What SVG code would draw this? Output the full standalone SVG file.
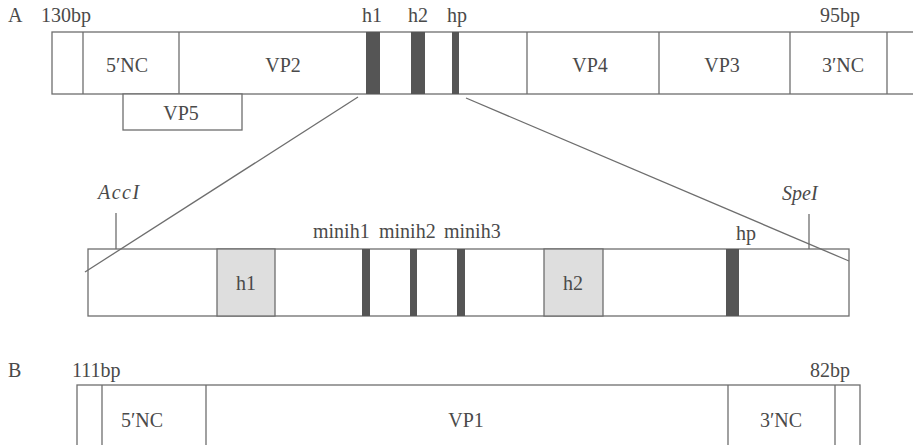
<svg xmlns="http://www.w3.org/2000/svg" width="913" height="445" viewBox="0 0 913 445">
  <style>
    text { font-family: "Liberation Serif", "DejaVu Serif", serif; font-size: 20px; fill: #4a4a4a; }
    .mid { text-anchor: middle; }
    .it { font-style: italic; }
    .box { fill: #fff; stroke: #6e6e6e; stroke-width: 1.3; }
    .div { stroke: #6e6e6e; stroke-width: 1.3; fill: none; }
    .band { fill: #555; }
    .shade { fill: #dedede; stroke: #6e6e6e; stroke-width: 1.3; }
  </style>
  <rect width="913" height="445" fill="#fff"/>

  <!-- A: full genome map -->
  <g id="panelA-label"><text x="8" y="22">A</text></g>
  <g id="genomeA">
    <rect class="box" x="52" y="32" width="880" height="62"/>
    <line class="div" x1="83" y1="32" x2="83" y2="94"/>
    <line class="div" x1="179" y1="32" x2="179" y2="94"/>
    <line class="div" x1="527" y1="32" x2="527" y2="94"/>
    <line class="div" x1="659" y1="32" x2="659" y2="94"/>
    <line class="div" x1="790" y1="32" x2="790" y2="94"/>
    <line class="div" x1="887" y1="32" x2="887" y2="94"/>
    <rect class="band" x="366" y="32" width="14" height="62"/>
    <rect class="band" x="411" y="32" width="14" height="62"/>
    <rect class="band" x="452" y="32" width="7" height="62"/>
    <text x="41" y="22">130bp</text>
    <text class="mid" x="840" y="22">95bp</text>
    <text class="mid" x="372" y="22">h1</text>
    <text class="mid" x="418" y="22">h2</text>
    <text class="mid" x="457" y="22">hp</text>
    <text class="mid" x="127" y="72">5′NC</text>
    <text class="mid" x="283" y="72">VP2</text>
    <text class="mid" x="590" y="72">VP4</text>
    <text class="mid" x="722" y="72">VP3</text>
    <text class="mid" x="843" y="72">3′NC</text>
  </g>
  <g id="vp5">
    <rect class="box" x="123" y="94" width="119" height="36"/>
    <text class="mid" x="181" y="120">VP5</text>
  </g>

  <!-- enlarged region -->
  <g id="detail">
    <rect class="box" x="88" y="249" width="761" height="67"/>
    <rect class="shade" x="217" y="249" width="58" height="67"/>
    <rect class="shade" x="544" y="249" width="59" height="67"/>
    <rect class="band" x="362" y="249" width="8" height="67"/>
    <rect class="band" x="410" y="249" width="7" height="67"/>
    <rect class="band" x="457" y="249" width="8" height="67"/>
    <rect class="band" x="726" y="249" width="13" height="67"/>
    <text class="mid" x="246" y="290">h1</text>
    <text class="mid" x="573" y="290">h2</text>
    <text x="313" y="238">minih1</text>
    <text x="379" y="238">minih2</text>
    <text x="444" y="238">minih3</text>
    <text class="mid" x="746" y="240">hp</text>
  </g>
  <!-- restriction sites -->
  <g id="accI">
    <text class="it" x="98" y="199" letter-spacing="1.5">AccI</text>
    <line class="div" x1="116" y1="213" x2="116" y2="249"/>
  </g>
  <g id="speI">
    <text class="it" x="782" y="200">SpeI</text>
    <line class="div" x1="809" y1="214" x2="809" y2="249"/>
  </g>
  <!-- zoom lines, drawn over the enlarged bar -->
  <g id="connectors">
    <line class="div" x1="358" y1="97" x2="85" y2="272"/>
    <line class="div" x1="466" y1="98" x2="849" y2="261"/>
  </g>

  <!-- B: second genome map -->
  <g id="panelB-label"><text x="8" y="377">B</text></g>
  <g id="genomeB">
    <rect class="box" x="77" y="385" width="783" height="70"/>
    <line class="div" x1="102" y1="385" x2="102" y2="445"/>
    <line class="div" x1="206" y1="385" x2="206" y2="445"/>
    <line class="div" x1="728" y1="385" x2="728" y2="445"/>
    <line class="div" x1="835" y1="385" x2="835" y2="445"/>
    <text x="72" y="377">111bp</text>
    <text class="mid" x="830" y="377">82bp</text>
    <text class="mid" x="142" y="427">5′NC</text>
    <text class="mid" x="466" y="427">VP1</text>
    <text class="mid" x="781" y="427">3′NC</text>
  </g>
</svg>
